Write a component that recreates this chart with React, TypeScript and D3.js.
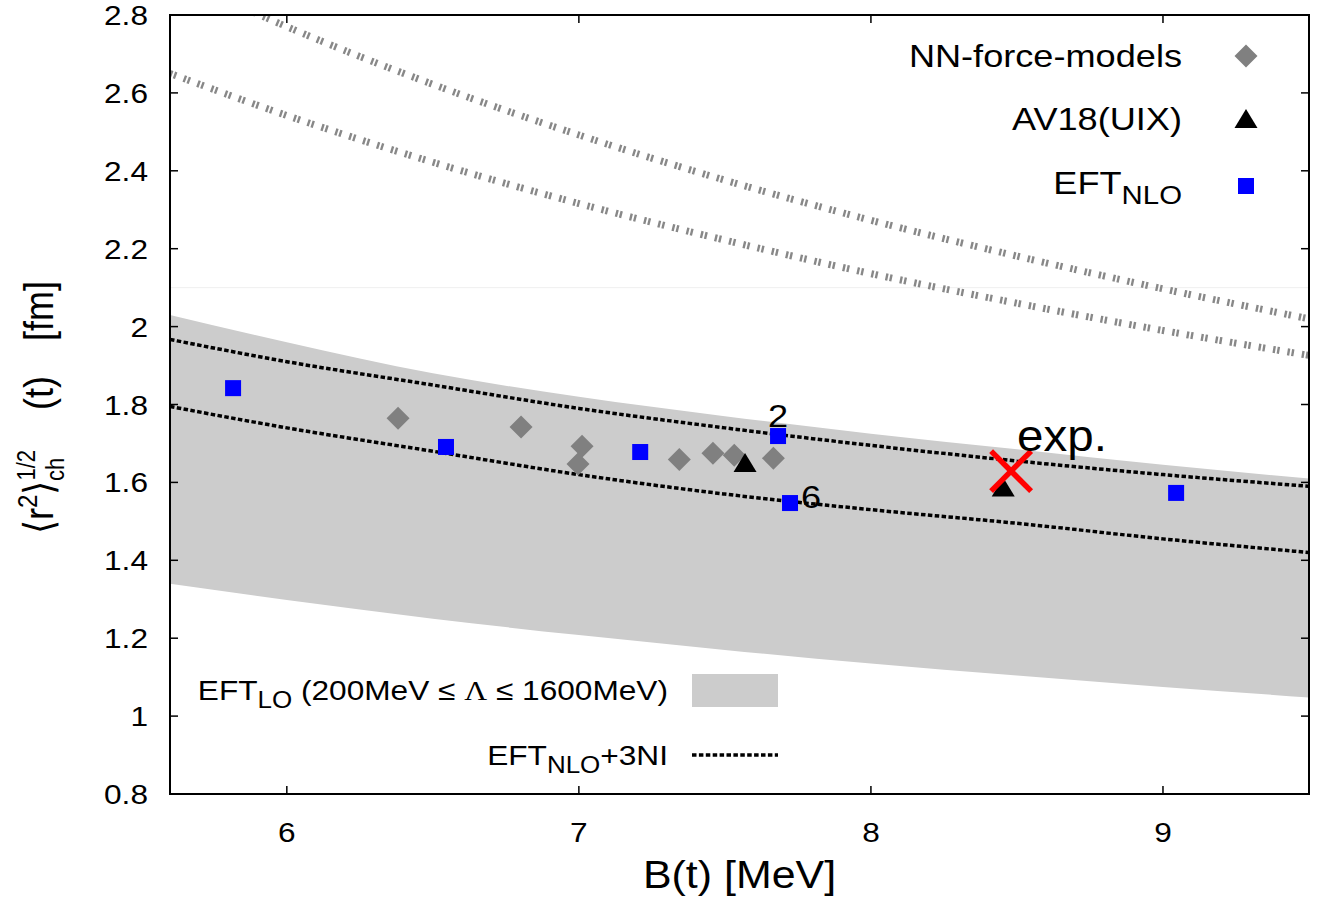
import React from "react";
import * as d3 from "d3";

// ---- data ----
const xTicks = [6, 7, 8, 9];
const xTickLabels = ["6", "7", "8", "9"];
const yTicks = [0.8, 1.0, 1.2, 1.4, 1.6, 1.8, 2.0, 2.2, 2.4, 2.6, 2.8];
const yTickLabels = ["0.8", "1", "1.2", "1.4", "1.6", "1.8", "2", "2.2", "2.4", "2.6", "2.8"];

const curveX = [5.6, 6.0, 6.5, 7.0, 7.5, 8.0, 8.5, 9.0, 9.5];
const bandUpper = [2.03, 1.96, 1.88, 1.82, 1.77, 1.725, 1.685, 1.645, 1.61];
const bandLower = [1.34, 1.298, 1.25, 1.208, 1.17, 1.135, 1.104, 1.075, 1.048];
const nloUpper = [1.967, 1.91, 1.85, 1.79, 1.74, 1.695, 1.655, 1.62, 1.59];
const nloLower = [1.795, 1.74, 1.68, 1.62, 1.57, 1.53, 1.495, 1.455, 1.42];
const grayUpper = [2.905, 2.77, 2.622, 2.492, 2.376, 2.273, 2.181, 2.097, 2.02];
const grayLower = [2.65, 2.542, 2.422, 2.316, 2.222, 2.136, 2.06, 1.99, 1.926];

const nnX = [6.381, 6.802, 7.011, 6.997, 7.344, 7.459, 7.532, 7.666];
const nnY = [1.765, 1.742, 1.693, 1.647, 1.659, 1.675, 1.67, 1.662];
const avX = [7.569, 8.453];
const avY = [1.65, 1.587];
const nloX = [5.816, 6.545, 7.21, 7.682, 7.723, 9.045];
const nloY = [1.842, 1.691, 1.678, 1.719, 1.547, 1.573];
const expX = [8.48];
const expY = [1.629];

const labels = [
  { text: "2", x: 7.682, y: 1.719 },
  { text: "6", x: 7.723, y: 1.547 },
  { text: "exp.", x: 8.48, y: 1.629 },
];

// ---- layout ----
const W = 1318, H = 902;
const L = 170, R = 1309, T = 15, B = 794;
const SX = 1.13;
const FONT = "'Liberation Sans', Arial, Helvetica, sans-serif";

const x = d3.scaleLinear().domain([5.6, 9.5]).range([L, R]);
const y = d3.scaleLinear().domain([0.8, 2.8]).range([B, T]);

function Txt({ px, py, anchor = "start", size = 28, sx = SX, children, fill = "#000" }: any) {
  return (
    <text
      transform={`translate(${px},${py}) scale(${sx},1)`}
      textAnchor={anchor}
      fontSize={size}
      fontFamily={FONT}
      fill={fill}
    >
      {children}
    </text>
  );
}

function RotTxt({ px, py, size = 36, children }: any) {
  return (
    <text
      transform={`translate(${px},${py}) rotate(-90) scale(1,${SX})`}
      textAnchor="middle"
      fontSize={size}
      fontFamily={FONT}
      fill="#000"
    >
      {children}
    </text>
  );
}

export default function App() {
  const band = d3
    .area<number>()
    .x((_, i) => x(curveX[i]))
    .y0((_, i) => y(bandLower[i]))
    .y1((_, i) => y(bandUpper[i]))
    .curve(d3.curveMonotoneX)(curveX);
  const line = (ys: number[]) =>
    d3
      .line<number>()
      .x((_, i) => x(curveX[i]))
      .y((_, i) => y(ys[i]))
      .curve(d3.curveMonotoneX)(curveX) as string;

  const diamond = (cx: number, cy: number, r = 11.5) =>
    `M${cx},${cy - r}L${cx + r},${cy}L${cx},${cy + r}L${cx - r},${cy}Z`;
  const tri = (cx: number, cy: number) =>
    `M${cx},${cy - 10}L${cx + 11.5},${cy + 9}L${cx - 11.5},${cy + 9}Z`;
  const sq = 16;
  const dotted = "4.5 2.4";
  const ticked = "2.4 1.8 2.4 8";

  return (
    <svg width={W} height={H} style={{ position: "absolute", left: 0, top: 0, background: "#fff" }}>
      <defs>
        <clipPath id="plot">
          <rect x={L} y={T} width={R - L} height={B - T} />
        </clipPath>
      </defs>
      <rect x={0} y={0} width={W} height={H} fill="#fff" />
      <g clipPath="url(#plot)">
        <line x1={L} x2={R} y1={y(2.1)} y2={y(2.1)} stroke="#efefef" strokeWidth={1} />
        <path d={band as string} fill="#cccccc" />
        <path d={line(grayUpper)} fill="none" stroke="#888888" strokeWidth={7} strokeDasharray={ticked} />
        <path d={line(grayLower)} fill="none" stroke="#888888" strokeWidth={7} strokeDasharray={ticked} />
        <path d={line(nloUpper)} fill="none" stroke="#000" strokeWidth={3.5} strokeDasharray={dotted} />
        <path d={line(nloLower)} fill="none" stroke="#000" strokeWidth={3.5} strokeDasharray={dotted} />
        {nnX.map((v, i) => (
          <path key={"nn" + i} d={diamond(x(v), y(nnY[i]))} fill="#808080" />
        ))}
        {nloX.map((v, i) => (
          <rect key={"sq" + i} x={x(v) - sq / 2} y={y(nloY[i]) - sq / 2} width={sq} height={sq} fill="#0000ff" />
        ))}
        {avX.map((v, i) => (
          <path key={"av" + i} d={tri(x(v), y(avY[i]))} fill="#000" />
        ))}
        {expX.map((v, i) => {
          const cx = x(v), cy = y(expY[i]), r = 20;
          return (
            <g key={"exp" + i} stroke="#ff0000" strokeWidth={5.5}>
              <line x1={cx - r} y1={cy - r} x2={cx + r} y2={cy + r} />
              <line x1={cx - r} y1={cy + r} x2={cx + r} y2={cy - r} />
            </g>
          );
        })}
      </g>
      {/* annotations */}
      <Txt px={x(labels[0].x)} py={y(labels[0].y) - 9} anchor="middle" size={32}>{labels[0].text}</Txt>
      <Txt px={x(labels[1].x) + 11} py={y(labels[1].y) + 5} size={32}>{labels[1].text}</Txt>
      <Txt px={x(labels[2].x) + 6} py={y(labels[2].y) - 20} size={44} sx={1.08}>{labels[2].text}</Txt>

      {/* frame */}
      <rect x={L} y={T} width={R - L} height={B - T} fill="none" stroke="#000" strokeWidth={2} />
      {yTicks.map((v, i) => (
        <g key={"yt" + i}>
          <line x1={L} x2={L + 8} y1={y(v)} y2={y(v)} stroke="#000" strokeWidth={1.5} />
          <line x1={R} x2={R - 8} y1={y(v)} y2={y(v)} stroke="#000" strokeWidth={1.5} />
          <Txt px={148} py={y(v) + 10} anchor="end" size={28}>{yTickLabels[i]}</Txt>
        </g>
      ))}
      {xTicks.map((v, i) => (
        <g key={"xt" + i}>
          <line x1={x(v)} x2={x(v)} y1={B} y2={B - 8} stroke="#000" strokeWidth={1.5} />
          <line x1={x(v)} x2={x(v)} y1={T} y2={T + 8} stroke="#000" strokeWidth={1.5} />
          <Txt px={x(v)} py={842} anchor="middle" size={28}>{xTickLabels[i]}</Txt>
        </g>
      ))}

      {/* axis titles */}
      <Txt px={(L + R) / 2} py={888} anchor="middle" size={38}>B(t) [MeV]</Txt>
      <RotTxt px={53} py={311} size={36}>[fm]</RotTxt>
      <RotTxt px={53} py={393} size={36}>(t)</RotTxt>
      <RotTxt px={53} py={492} size={36}>
        <tspan>⟨r</tspan>
        <tspan fontSize={24} dy={-14}>2</tspan>
        <tspan dy={14}>⟩</tspan>
        <tspan fontSize={22} dy={-16}>1/2</tspan>
        <tspan fontSize={22} dx={-31} dy={26}>ch</tspan>
        <tspan fontSize={22} dx={6} dy={-10}> </tspan>
      </RotTxt>

      {/* top-right legend */}
      <Txt px={1182} py={67} anchor="end" size={32}>NN-force-models</Txt>
      <path d={diamond(1246, 56)} fill="#808080" />
      <Txt px={1182} py={130} anchor="end" size={32}>AV18(UIX)</Txt>
      <path d={tri(1246, 119)} fill="#000" />
      <Txt px={1182} py={194} anchor="end" size={32}>
        EFT<tspan fontSize={26} dy={10}>NLO</tspan>
      </Txt>
      <rect x={1246 - sq / 2} y={186 - sq / 2} width={sq} height={sq} fill="#0000ff" />

      {/* bottom-left legend */}
      <Txt px={668} py={700} anchor="end" size={28}>
        EFT<tspan fontSize={23} dy={8}>LO</tspan>
        <tspan dy={-8}> (200MeV ≤ </tspan>
        <tspan fontFamily="'Liberation Serif', serif">Λ</tspan>
        <tspan> ≤ 1600MeV)</tspan>
      </Txt>
      <rect x={692} y={674} width={86} height={33} fill="#cccccc" />
      <Txt px={668} py={765} anchor="end" size={28}>
        EFT<tspan fontSize={23} dy={8}>NLO</tspan>
        <tspan dy={-8}>+3NI</tspan>
      </Txt>
      <line x1={692} x2={778} y1={755} y2={755} stroke="#000" strokeWidth={3.5} strokeDasharray={dotted} />
    </svg>
  );
}
